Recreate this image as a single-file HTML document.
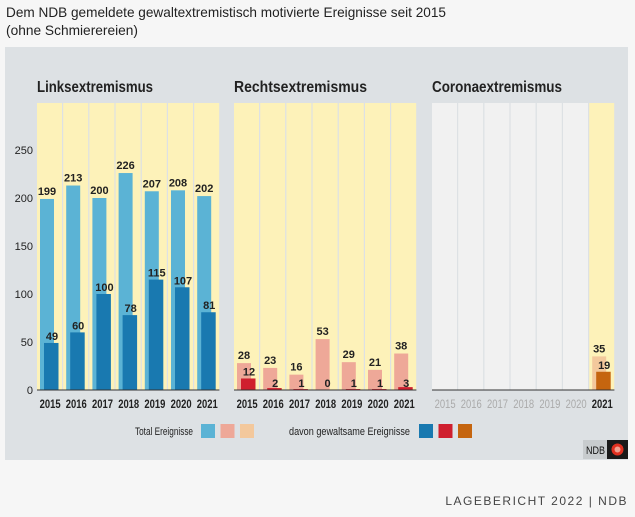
<!DOCTYPE html>
<html><head><meta charset="utf-8">
<style>
body{margin:0;background:#f6f6f6;width:635px;height:517px;overflow:hidden;font-family:"Liberation Sans Narrow","Liberation Sans",sans-serif;}
svg{display:block}
</style></head>
<body>
<svg id="c" width="635" height="517" xmlns="http://www.w3.org/2000/svg">
<rect x="0" y="0" width="635" height="517" fill="#f6f6f6"/>
<text x="6" y="17" font-size="14" fill="#222" textLength="440" lengthAdjust="spacingAndGlyphs">Dem NDB gemeldete gewaltextremistisch motivierte Ereignisse seit 2015</text>
<text x="6" y="35" font-size="14" fill="#222" textLength="132" lengthAdjust="spacingAndGlyphs">(ohne Schmierereien)</text>
<rect x="5" y="47" width="623" height="413" fill="#dde1e4"/>
<g id="g"></g>
<text x="628" y="505" font-size="12" fill="#444" text-anchor="end" letter-spacing="1.5" font-family="Liberation Sans, sans-serif">LAGEBERICHT 2022 | NDB</text>
</svg>
<script>
const years = ["2015","2016","2017","2018","2019","2020","2021"];
const yTicks = [0,50,100,150,200,250];
const linksTotal = [199,213,200,226,207,208,202];
const linksViolent = [49,60,100,78,115,107,81];
const rechtsTotal = [28,23,16,53,29,21,38];
const rechtsViolent = [12,2,1,0,1,1,3];
const coronaTotal = [null,null,null,null,null,null,35];
const coronaViolent = [null,null,null,null,null,null,19];
const panelTitles = ["Linksextremismus","Rechtsextremismus","Coronaextremismus"];

const NS="http://www.w3.org/2000/svg";
const g=document.getElementById('g');
function mk(t,a,p){const e=document.createElementNS(NS,t);for(const k in a)e.setAttribute(k,a[k]);(p||g).appendChild(e);return e;}
const y0=390, plotTop=103, scale=0.96;
function yPos(v){return y0-v*scale;}
const panelX=[37,234,432], colW=26.2, titleW=[116,133,130];
const series=[
 {t:linksTotal,v:linksViolent,lc:"#5bb3d5",dc:"#1979b0",name:"links"},
 {t:rechtsTotal,v:rechtsViolent,lc:"#eea898",dc:"#cf1f2e",name:"rechts"},
 {t:coronaTotal,v:coronaViolent,lc:"#f3c89c",dc:"#c5650f",name:"corona"}];
yTicks.forEach(t=>{
 const e=mk('text',{x:33,y:yPos(t)+4,'font-size':11,'text-anchor':'end',fill:'#222'});
 
 
 e.textContent=t;
});
series.forEach((s,p)=>{
 const px=panelX[p];
 const ti=mk('text',{x:px,y:92,'font-size':16,'font-weight':'bold',fill:'#222',textLength:titleW[p],lengthAdjust:'spacingAndGlyphs'});
 
 
 ti.textContent=panelTitles[p];
 years.forEach((yr,i)=>{
  const cx=px+i*colW;
  const active=s.t[i]!==null;
  const bg=mk('rect',{x:cx,y:plotTop,width:colW-1.2,height:y0-plotTop,fill:active?'#fdf2b9':'#f1f1f1'});
  
  
  const yl=mk('text',{x:cx+colW/2-10.5,y:408,'font-size':11.5,'font-weight':active?'bold':'normal',fill:active?'#222':'#aaa',textLength:21,lengthAdjust:'spacingAndGlyphs'});
  
  
  yl.textContent=yr;
  if(!active)return;
  const lt=mk('rect',{x:cx+3,y:yPos(s.t[i]),width:14,height:s.t[i]*scale,fill:s.lc});
  
  
  const dk=mk('rect',{x:cx+7,y:yPos(s.v[i]),width:14.5,height:Math.max(s.v[i]*scale,0),fill:s.dc});
  
  
  const l1=mk('text',{x:cx+10,y:yPos(s.t[i])-4,'font-size':11,'font-weight':'bold','text-anchor':'middle',fill:'#222'});
  
  
  l1.textContent=s.t[i];
  let ly=yPos(s.v[i])-3;
  if(p===1 && s.v[i]<5) ly=y0-3;
  const l2=mk('text',{x:cx+15,y:ly,'font-size':11,'font-weight':'bold','text-anchor':'middle',fill:'#222'});
  
  
  l2.textContent=s.v[i];
 });
 const ax=mk('line',{x1:px,x2:px+7*colW-1,y1:y0,y2:y0,stroke:'#333','stroke-width':1});
 
 
});
function legText(x,w,t,n){const e=mk('text',{x:x,y:435,'font-size':11,fill:'#222',textLength:w,lengthAdjust:'spacingAndGlyphs'});
 
 
 e.textContent=t;}
legText(135,58,"Total Ereignisse","legend-total-label");
legText(289,121,"davon gewaltsame Ereignisse","legend-violent-label");
series.forEach((s,k)=>{
 const a=mk('rect',{x:201+k*19.5,y:424,width:14,height:14,fill:s.lc});
 
 
 const b=mk('rect',{x:419+k*19.5,y:424,width:14,height:14,fill:s.dc});
 
 
});
const lb=mk('rect',{x:583,y:440,width:45,height:19,fill:'#c8ccce'});


mk('rect',{x:607,y:440,width:21,height:19,fill:'#1a1a1a'});
const lt=mk('text',{x:586,y:454,'font-size':11,fill:'#111',textLength:19,lengthAdjust:'spacingAndGlyphs'});


lt.textContent="NDB";
mk('circle',{cx:617.5,cy:449.5,r:6,fill:'#e03020'});
mk('circle',{cx:617.5,cy:449.5,r:3,fill:'#f0a090'});
</script>
</body></html>
